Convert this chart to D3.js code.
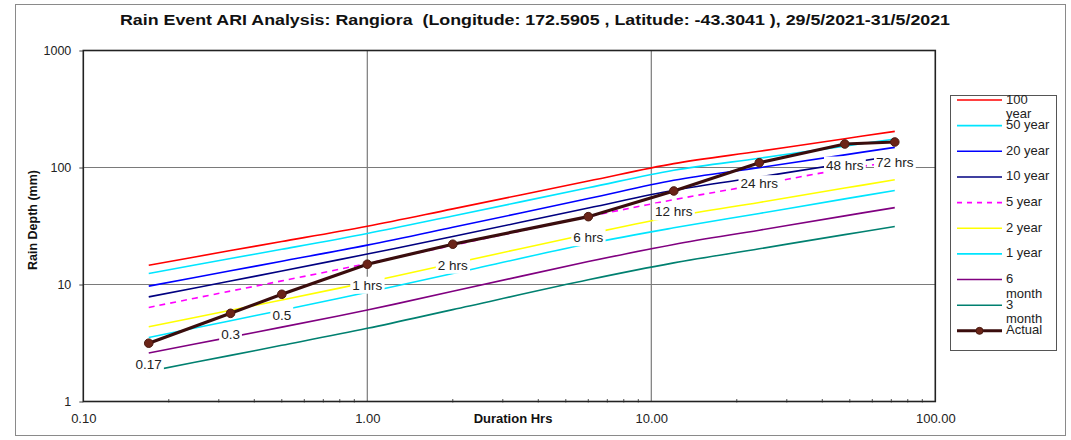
<!DOCTYPE html>
<html>
<head>
<meta charset="utf-8">
<script src="https://cdn.jsdelivr.net/npm/d3@7"></script>
<style>
  html, body { margin: 0; padding: 0; background: #fff; }
  svg { display: block; font-family: "Liberation Sans", Arial, sans-serif; }
</style>
</head>
<body>
<svg id="chart" width="1071" height="440"></svg>
<script>
// ---------- data ----------
const titleText = "Rain Event ARI Analysis: Rangiora  (Longitude: 172.5905 , Latitude: -43.3041 ), 29/5/2021-31/5/2021";
const durations = [0.17, 0.33, 0.5, 1, 2, 6, 12, 24, 48, 72];
const seriesNames = ["100 year", "50 year", "20 year", "10 year", "5 year", "2 year", "1 year", "6 month", "3 month"];
const seriesColors = ["#FF0000", "#00E5FF", "#0000FF", "#000080", "#FF00FF", "#FFFF00", "#00E5FF", "#800080", "#008070"];
const ari100y = [14.6, 19.5, 23.3, 31.5, 44.3, 76.6, 107.9, 137.6, 176.3, 203.5];
const ari50y  = [12.4, 16.7, 20.0, 27.3, 38.5, 67.1, 94.6, 120, 152.4, 175];
const ari20y  = [9.68, 13.1, 15.8, 21.7, 30.8, 54.3, 77.7, 99.7, 128.3, 148.6];
const ari10y  = [7.84, 10.7, 13.05, 18.2, 25.7, 45.0, 63.8, 82.9, 108.1, 125.8];
const ari5y   = [6.37, 8.79, 10.74, 15.1, 21.6, 38.0, 53.1, 71.7, 97.2, 111.7];
const ari2y   = [4.35, 6.03, 7.38, 10.45, 15.1, 27.0, 38.1, 50.3, 66.7, 78.5];
const ari1y   = [3.52, 4.90, 6.03, 8.57, 12.4, 22.3, 30.5, 40.5, 53.9, 63.5];
const ari6m   = [2.60, 3.55, 4.32, 6.05, 8.74, 15.7, 22.0, 29.1, 38.6, 45.4];
const ari3m   = [1.81, 2.48, 3.02, 4.22, 6.10, 10.97, 15.3, 20.2, 26.7, 31.3];
const actualDepth = [3.15, 5.67, 8.25, 14.9, 22.1, 38.0, 63.0, 109.9, 158.8, 165.2];
const actualLabels = ["0.17", "0.3", "0.5", "1 hrs", "2 hrs", "6 hrs", "12 hrs", "24 hrs", "48 hrs", "72 hrs"];
const xTickValues = [0.1, 1, 10, 100];
const xTickLabels = ["0.10", "1.00", "10.00", "100.00"];
const yTickValues = [1, 10, 100, 1000];
const yTickLabels = ["1", "10", "100", "1000"];
const xTitle = "Duration Hrs";
const yTitle = "Rain Depth (mm)";

const ariSeries = [ari100y, ari50y, ari20y, ari10y, ari5y, ari2y, ari1y, ari6m, ari3m];

// ---------- layout ----------
const svg = d3.select("#chart");
const plot = { left: 83.3, right: 935.3, top: 50.5, bottom: 401.5 };

const x = d3.scaleLog().domain([0.1, 100]).range([plot.left, plot.right]);
const y = d3.scaleLog().domain([1, 1000]).range([plot.bottom, plot.top]);

// outer border
svg.append("rect")
  .attr("x", 15.5).attr("y", 4.5).attr("width", 1050).attr("height", 431)
  .attr("fill", "#fff").attr("stroke", "#8a8a8a").attr("stroke-width", 1);

// title
svg.append("text")
  .attr("x", 535).attr("y", 25)
  .attr("text-anchor", "middle")
  .attr("font-weight", "bold").attr("font-size", 14.5)
  .attr("fill", "#111")
  .attr("textLength", 830).attr("lengthAdjust", "spacingAndGlyphs")
  .style("white-space", "pre")
  .text(titleText);

// gridlines
const gridX = [1, 10];
const gridY = [10, 100];
svg.append("g").selectAll("line.gx").data(gridX).join("line")
  .attr("x1", d => x(d)).attr("x2", d => x(d))
  .attr("y1", plot.top).attr("y2", plot.bottom)
  .attr("stroke", "#7a7a7a").attr("stroke-width", 1.2);
svg.append("g").selectAll("line.gy").data(gridY).join("line")
  .attr("x1", plot.left).attr("x2", plot.right)
  .attr("y1", d => y(d)).attr("y2", d => y(d))
  .attr("stroke", "#7a7a7a").attr("stroke-width", 1.2);

// axes
const xAxis = d3.axisBottom(x).tickValues(xTickValues).tickSize(0).tickPadding(12)
  .tickFormat((d, i) => xTickLabels[i]);
const gx = svg.append("g").attr("transform", `translate(0,${plot.bottom})`).call(xAxis);
gx.select(".domain").remove();
gx.selectAll("text").attr("font-size", 13).attr("fill", "#222").attr("font-family", "Liberation Sans, Arial, sans-serif");

// x minor ticks
const minor = [];
[0.1, 1, 10].forEach(dec => { for (let k = 2; k <= 9; k++) minor.push(dec * k); });
svg.append("g").selectAll("line").data(minor).join("line")
  .attr("x1", d => x(d)).attr("x2", d => x(d))
  .attr("y1", plot.bottom - 2.5).attr("y2", plot.bottom + 1)
  .attr("stroke", "#555").attr("stroke-width", 1);

const yAxis = d3.axisLeft(y).tickValues(yTickValues).tickSize(4).tickPadding(8)
  .tickFormat((d, i) => yTickLabels[i]);
const gy = svg.append("g").attr("transform", `translate(${plot.left},0)`).call(yAxis);
gy.select(".domain").remove();
gy.selectAll("line").attr("stroke", "#444");
gy.selectAll("text").attr("font-size", 12.5).attr("fill", "#222").attr("font-family", "Liberation Sans, Arial, sans-serif");

// plot frame
svg.append("rect")
  .attr("x", plot.left).attr("y", plot.top)
  .attr("width", plot.right - plot.left).attr("height", plot.bottom - plot.top)
  .attr("fill", "none").attr("stroke", "#222").attr("stroke-width", 1.6);

// axis titles
svg.append("text")
  .attr("x", 513).attr("y", 423)
  .attr("text-anchor", "middle").attr("font-weight", "bold").attr("font-size", 13)
  .attr("fill", "#111").text(xTitle);
svg.append("text")
  .attr("transform", "translate(37,220) rotate(-90)")
  .attr("text-anchor", "middle").attr("font-weight", "bold").attr("font-size", 12.5)
  .attr("fill", "#111").text(yTitle);

// ARI lines (smoothed)
const smoothLine = d3.line().x((d, i) => x(durations[i])).y(d => y(d)).curve(d3.curveCatmullRom.alpha(0.5));
const line = d3.line().x((d, i) => x(durations[i])).y(d => y(d));
const gLines = svg.append("g");
ariSeries.forEach((s, k) => {
  gLines.append("path").datum(s)
    .attr("d", smoothLine)
    .attr("fill", "none")
    .attr("stroke", seriesColors[k])
    .attr("stroke-width", 1.6)
    .attr("stroke-dasharray", seriesNames[k] === "5 year" ? "6,5" : null);
});

// actual
svg.append("path").datum(actualDepth)
  .attr("d", line).attr("fill", "none")
  .attr("stroke", "#3a0d0d").attr("stroke-width", 3.2);
svg.append("g").selectAll("circle").data(actualDepth).join("circle")
  .attr("cx", (d, i) => x(durations[i])).attr("cy", d => y(d))
  .attr("r", 4.3).attr("fill", "#6b2418").attr("stroke", "#4a1a10").attr("stroke-width", 1);

// data labels with white background
const gLab = svg.append("g");
actualDepth.forEach((d, i) => {
  const g = gLab.append("g");
  const t = g.append("text")
    .attr("x", x(durations[i])).attr("y", y(d) + 21)
    .attr("text-anchor", "middle").attr("dominant-baseline", "central")
    .attr("font-size", 13.5).attr("fill", "#222")
    .text(actualLabels[i]);
  const bb = t.node().getBBox();
  g.insert("rect", "text")
    .attr("x", bb.x - 2).attr("y", bb.y - 1)
    .attr("width", bb.width + 4).attr("height", bb.height + 2)
    .attr("fill", "#fff");
});

// legend
const leg = { x: 950, y: 95, w: 106, h: 255 };
svg.append("rect").attr("x", leg.x + 0.5).attr("y", leg.y + 0.5)
  .attr("width", leg.w).attr("height", leg.h)
  .attr("fill", "#fff").attr("stroke", "#555").attr("stroke-width", 1);
const legNames = seriesNames.concat(["Actual"]);
const legColors = seriesColors.concat(["#3a0d0d"]);
const legRow = (i) => leg.y + 5 + i * 25.65;
legNames.forEach((name, i) => {
  const yy = legRow(i);
  const isActual = name === "Actual";
  svg.append("line")
    .attr("x1", 957).attr("x2", 1002).attr("y1", yy).attr("y2", yy)
    .attr("stroke", legColors[i])
    .attr("stroke-width", isActual ? 3 : 1.6)
    .attr("stroke-dasharray", name === "5 year" ? "5,5" : null);
  if (isActual) {
    svg.append("circle").attr("cx", 979.5).attr("cy", yy).attr("r", 3.5)
      .attr("fill", "#6b2418").attr("stroke", "#4a1a10");
  }
  const parts = (name === "100 year" || name.indexOf("month") >= 0) ? name.split(" ") : [name];
  parts.forEach((p, j) => {
    svg.append("text")
      .attr("x", 1006).attr("y", yy - 1 + j * 14.5)
      .attr("dominant-baseline", "central")
      .attr("font-size", 13).attr("fill", "#222")
      .text(p);
  });
});
</script>
</body>
</html>
